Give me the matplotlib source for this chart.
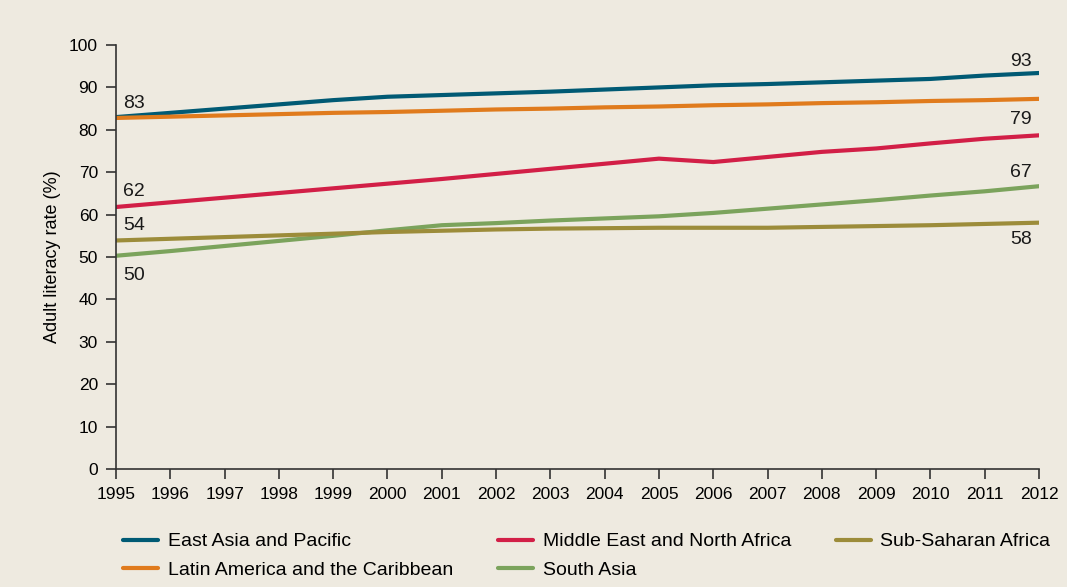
import matplotlib
matplotlib.use("Agg")
import matplotlib.pyplot as plt

years = list(range(1995, 2013))
east_asia = [83.0, 84.0, 85.0, 86.0, 87.0, 87.8, 88.2, 88.6, 89.0, 89.5, 90.0, 90.5, 90.8, 91.2, 91.6, 92.0, 92.8, 93.4]
latin_america = [82.8, 83.1, 83.4, 83.7, 84.0, 84.2, 84.5, 84.8, 85.0, 85.3, 85.5, 85.8, 86.0, 86.3, 86.5, 86.8, 87.0, 87.3]
middle_east = [61.8, 62.9, 64.0, 65.1, 66.2, 67.3, 68.4, 69.6, 70.8, 72.0, 73.2, 72.4, 73.6, 74.8, 75.6, 76.8, 77.9, 78.7]
south_asia = [50.3, 51.4, 52.6, 53.8, 55.0, 56.3, 57.5, 58.0, 58.6, 59.1, 59.6, 60.4, 61.4, 62.4, 63.4, 64.5, 65.5, 66.7]
sub_saharan = [53.9, 54.3, 54.7, 55.1, 55.5, 55.9, 56.2, 56.5, 56.7, 56.8, 56.9, 56.9, 56.9, 57.1, 57.3, 57.5, 57.8, 58.1]

series_names = ["East Asia and Pacific", "Latin America and the Caribbean",
                "Middle East and North Africa", "South Asia", "Sub-Saharan Africa"]
series_values = [east_asia, latin_america, middle_east, south_asia, sub_saharan]
colors = ["#005A74", "#E07B1D", "#D21F47", "#7BA35C", "#9C8C3A"]

# value labels at line ends: (series index, text)
start_labels = [(0, "83"), (2, "62"), (4, "54"), (3, "50")]
end_labels = [(0, "93"), (2, "79"), (3, "67"), (4, "58")]
start_offsets = [10, 11, 11, -14]
end_offsets = [8, 11.5, 10, -12]

bg = "#EEEAE0"
plt.rcParams['font.family'] = ['Liberation Sans', 'DejaVu Sans']
fig = plt.figure(figsize=(10.67, 5.87), dpi=100, facecolor=bg)
ax = fig.add_axes([0.1087, 0.201, 0.8651, 0.7223], facecolor=bg)

handles = []
for name, vals, c in zip(series_names, series_values, colors):
    h, = ax.plot(years, vals, color=c, lw=3, solid_capstyle='round', label=name)
    handles.append(h)

for (idx, txt), dy in zip(start_labels, start_offsets):
    ax.annotate(txt, (years[0], series_values[idx][0]), xytext=(5, dy),
                textcoords='offset points', ha='left', va='center', fontsize=14, color='#1a1a1a')
for (idx, txt), dy in zip(end_labels, end_offsets):
    ax.annotate(txt, (years[-1], series_values[idx][-1]), xytext=(-5, dy),
                textcoords='offset points', ha='right', va='center', fontsize=14, color='#1a1a1a')

ax.set_xlim(1995, 2012)
ax.set_ylim(0, 100)
ax.set_xticks(years)
ax.set_yticks(range(0, 101, 10))
ax.tick_params(direction='out', length=7, width=1.2, color='#333333', labelsize=12.5, pad=6)
for s in ['top', 'right']:
    ax.spines[s].set_visible(False)
for s in ['left', 'bottom']:
    ax.spines[s].set_color('#333333')
    ax.spines[s].set_linewidth(1.2)
ax.set_ylabel("Adult literacy rate (%)", fontsize=13, labelpad=6)

fig.legend(handles=handles, loc='upper left', bbox_to_anchor=(0.099, 0.122), ncol=3,
           frameon=False, fontsize=14, handlelength=1.8, columnspacing=2.3,
           handletextpad=0.5, labelspacing=0.55)

fig.savefig("out.png", dpi=100, facecolor=bg)
